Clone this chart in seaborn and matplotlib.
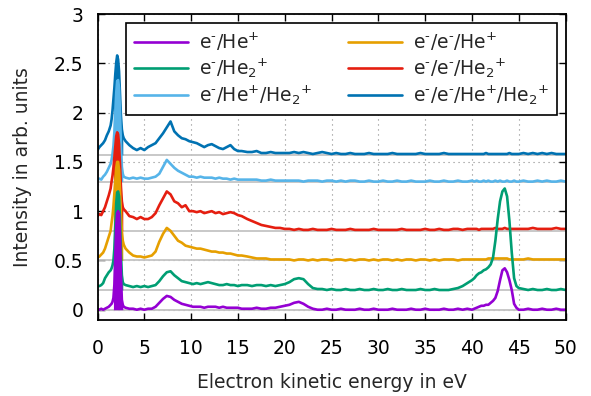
import numpy as np
import pandas as pd
import matplotlib
matplotlib.use("Agg")
import matplotlib.pyplot as plt
import seaborn as sns

sns.set_theme(style="ticks")
plt.rcParams["font.family"] = ["DejaVu Sans"]
plt.rcParams["mathtext.fontset"] = "dejavusans"

# ---- sampling grid (eV) ----
seg_a = np.round(np.arange(0.0, 1.41, 0.2), 2)     # 8
seg_b = np.round(np.arange(1.5, 2.81, 0.1), 2)     # 14
seg_c = np.round(np.arange(3.0, 15.41, 0.4), 2)    # 32
seg_d = np.round(np.arange(16.0, 39.51, 0.5), 2)   # 48
seg_e = np.round(np.arange(40.0, 44.76, 0.25), 2)  # 20
seg_f = np.round(np.arange(45.0, 50.01, 0.5), 2)   # 11
energy = np.concatenate([seg_a, seg_b, seg_c, seg_d, seg_e, seg_f])

labels = [r"e$^{\text{-}}$/He$^{+}$",
          r"e$^{\text{-}}$/He$_{2}$$^{+}$",
          r"e$^{\text{-}}$/He$^{+}$/He$_{2}$$^{+}$",
          r"e$^{\text{-}}$/e$^{\text{-}}$/He$^{+}$",
          r"e$^{\text{-}}$/e$^{\text{-}}$/He$_{2}$$^{+}$",
          r"e$^{\text{-}}$/e$^{\text{-}}$/He$^{+}$/He$_{2}$$^{+}$"]
colors = ["#9400d3", "#009e73", "#56b4e9", "#e69f00", "#e51e10", "#0072b2"]
offsets = [0.0, 0.2, 1.3, 0.5, 0.8, 1.57]

# ---- signal above each offset (arb. units) ----
he1 = ([0.01, 0.0, 0.01, 0.0, 0.01, 0.02, 0.03, 0.05]
       + [0.06, 0.08, 0.12, 0.25, 0.55, 0.85, 0.98, 1.0, 0.97, 0.75, 0.35, 0.1, 0.05, 0.03]
       + [0.02, 0.01, 0.01, 0.0, 0.01, 0.0, 0.01, 0.01,
          0.03, 0.07, 0.11, 0.14, 0.13, 0.1, 0.08, 0.06,
          0.05, 0.04, 0.03, 0.03, 0.03, 0.02, 0.03, 0.03,
          0.03, 0.02, 0.03, 0.02, 0.02, 0.02, 0.02, 0.01]
       + [0.01, 0.01, 0.02, 0.01, 0.01, 0.02, 0.02, 0.03,
          0.04, 0.05, 0.07, 0.08, 0.06, 0.03, 0.01, 0.0,
          0.0, 0.01, 0.0, 0.0, 0.01, 0.0, 0.0, 0.0,
          0.01, 0.0, 0.0, 0.01, 0.0, 0.0, 0.0, 0.01,
          0.0, 0.0, 0.0, 0.01, 0.0, 0.0, 0.01, 0.0,
          0.0, 0.0, 0.01, 0.0, 0.0, 0.01, 0.0, 0.01]
       + [0.0, 0.01, 0.02, 0.03, 0.04, 0.04, 0.05, 0.05, 0.07, 0.09,
          0.12, 0.19, 0.3, 0.4, 0.42, 0.38, 0.3, 0.2, 0.06, 0.02]
       + [0.0, 0.0, 0.01, 0.0, 0.0, 0.01, 0.0, 0.0, 0.01, 0.0, 0.0])

he2 = ([0.04, 0.04, 0.05, 0.07, 0.12, 0.15, 0.18, 0.2]
       + [0.22, 0.25, 0.3, 0.42, 0.65, 0.88, 0.99, 1.0, 0.95, 0.72, 0.38, 0.15, 0.08, 0.06]
       + [0.05, 0.04, 0.03, 0.04, 0.03, 0.04, 0.03, 0.04,
          0.05, 0.09, 0.14, 0.18, 0.19, 0.15, 0.12, 0.09,
          0.08, 0.07, 0.06, 0.07, 0.06, 0.07, 0.08, 0.07,
          0.06, 0.05, 0.05, 0.06, 0.05, 0.05, 0.04, 0.05]
       + [0.05, 0.04, 0.05, 0.05, 0.04, 0.05, 0.04, 0.05,
          0.06, 0.08, 0.11, 0.12, 0.11, 0.06, 0.02, 0.01,
          0.01, 0.0, 0.01, 0.0, 0.0, 0.01, 0.0, 0.0,
          0.01, 0.0, 0.0, 0.01, 0.0, 0.0, 0.01, 0.0,
          0.0, 0.01, 0.0, 0.0, 0.0, 0.01, 0.0, 0.0,
          0.01, 0.0, 0.0, 0.0, 0.01, 0.02, 0.04, 0.07]
       + [0.1, 0.12, 0.15, 0.17, 0.18, 0.2, 0.21, 0.23, 0.26, 0.33,
          0.5, 0.72, 0.9, 1.0, 1.03, 0.95, 0.7, 0.38, 0.12, 0.04]
       + [0.02, 0.01, 0.0, 0.01, 0.0, 0.0, 0.01, 0.0, 0.0, 0.01, 0.0])

he1_he2 = ([0.02, 0.03, 0.02, 0.05, 0.07, 0.1, 0.14, 0.18]
           + [0.22, 0.28, 0.36, 0.5, 0.7, 0.9, 1.02, 1.03, 0.95, 0.7, 0.38, 0.15, 0.08, 0.05]
           + [0.04, 0.03, 0.04, 0.03, 0.04, 0.03, 0.03, 0.04,
              0.05, 0.08, 0.15, 0.22, 0.18, 0.14, 0.11, 0.09,
              0.07, 0.05, 0.05, 0.04, 0.05, 0.04, 0.04, 0.04,
              0.03, 0.04, 0.03, 0.03, 0.02, 0.03, 0.02, 0.02]
           + [0.02, 0.02, 0.02, 0.01, 0.01, 0.02, 0.01, 0.01,
              0.01, 0.01, 0.01, 0.01, 0.0, 0.01, 0.01, 0.01,
              0.0, 0.01, 0.01, 0.0, 0.01, 0.0, 0.01, 0.01,
              0.0, 0.0, 0.01, 0.0, 0.0, 0.01, 0.0, 0.0,
              0.01, 0.0, 0.0, 0.01, 0.0, 0.0, 0.0, 0.01,
              0.0, 0.0, 0.01, 0.0, 0.0, 0.01, 0.0, 0.0]
           + [0.01, 0.0, 0.01, 0.0, 0.0, 0.01, 0.0, 0.01, 0.0, 0.0,
              0.01, 0.0, 0.01, 0.0, 0.0, 0.01, 0.0, 0.0, 0.01, 0.0]
           + [0.0, 0.01, 0.0, 0.0, 0.01, 0.0, 0.01, 0.0, 0.0, 0.01, 0.0])

ee_he1 = ([0.03, 0.04, 0.06, 0.08, 0.12, 0.18, 0.24, 0.3]
          + [0.38, 0.45, 0.55, 0.68, 0.82, 0.94, 1.0, 1.0, 0.92, 0.72, 0.48, 0.3, 0.2, 0.16]
          + [0.12, 0.08, 0.05, 0.04, 0.04, 0.03, 0.04, 0.05,
             0.09, 0.19, 0.27, 0.33, 0.3, 0.25, 0.2, 0.18,
             0.15, 0.14, 0.13, 0.12, 0.12, 0.11, 0.1, 0.09,
             0.09, 0.08, 0.08, 0.07, 0.07, 0.06, 0.05, 0.05]
          + [0.04, 0.03, 0.02, 0.02, 0.02, 0.01, 0.01, 0.01,
             0.01, 0.01, 0.0, 0.01, 0.01, 0.0, 0.01, 0.0,
             0.01, 0.01, 0.0, 0.01, 0.01, 0.0, 0.01, 0.0,
             0.01, 0.01, 0.0, 0.01, 0.0, 0.01, 0.01, 0.0,
             0.01, 0.0, 0.01, 0.01, 0.0, 0.01, 0.01, 0.0,
             0.01, 0.0, 0.01, 0.01, 0.01, 0.0, 0.01, 0.01]
          + [0.01, 0.01, 0.01, 0.01, 0.01, 0.01, 0.01, 0.02, 0.02, 0.02,
             0.02, 0.02, 0.02, 0.02, 0.02, 0.02, 0.01, 0.01, 0.01, 0.01]
          + [0.01, 0.01, 0.02, 0.01, 0.01, 0.01, 0.01, 0.01, 0.01, 0.01, 0.01])

ee_he2 = ([0.15, 0.17, 0.16, 0.2, 0.24, 0.3, 0.36, 0.43]
          + [0.5, 0.56, 0.64, 0.75, 0.87, 0.96, 1.0, 0.98, 0.88, 0.68, 0.45, 0.3, 0.24, 0.22]
          + [0.2, 0.15, 0.14, 0.12, 0.14, 0.12, 0.12, 0.14,
             0.18, 0.26, 0.33, 0.4, 0.37, 0.3, 0.28, 0.24,
             0.26, 0.2, 0.2, 0.19, 0.2, 0.18, 0.19, 0.2,
             0.18, 0.19, 0.17, 0.18, 0.19, 0.18, 0.16, 0.15]
          + [0.12, 0.1, 0.08, 0.06, 0.05, 0.04, 0.03, 0.03,
             0.02, 0.02, 0.01, 0.02, 0.01, 0.01, 0.02, 0.01,
             0.01, 0.01, 0.02, 0.01, 0.01, 0.01, 0.02, 0.01,
             0.01, 0.01, 0.01, 0.02, 0.01, 0.01, 0.01, 0.01,
             0.01, 0.02, 0.01, 0.01, 0.01, 0.01, 0.02, 0.01,
             0.01, 0.02, 0.01, 0.01, 0.02, 0.02, 0.01, 0.02]
          + [0.02, 0.02, 0.02, 0.01, 0.02, 0.02, 0.02, 0.02, 0.02, 0.02,
             0.03, 0.02, 0.02, 0.02, 0.03, 0.02, 0.02, 0.02, 0.02, 0.02]
          + [0.02, 0.02, 0.02, 0.03, 0.02, 0.02, 0.02, 0.02, 0.03, 0.02, 0.02])

ee_he1_he2 = ([0.05, 0.08, 0.1, 0.12, 0.15, 0.2, 0.24, 0.3]
              + [0.36, 0.45, 0.56, 0.68, 0.82, 0.94, 1.01, 0.97, 0.85, 0.62, 0.4, 0.26, 0.2, 0.17]
              + [0.14, 0.1, 0.07, 0.05, 0.07, 0.05, 0.08, 0.1,
                 0.12, 0.17, 0.22, 0.28, 0.34, 0.24, 0.2, 0.17,
                 0.16, 0.14, 0.13, 0.12, 0.1, 0.08, 0.1, 0.11,
                 0.09, 0.07, 0.06, 0.08, 0.1, 0.06, 0.04, 0.04]
              + [0.03, 0.03, 0.04, 0.02, 0.02, 0.03, 0.02, 0.02,
                 0.02, 0.02, 0.03, 0.02, 0.03, 0.02, 0.01, 0.02,
                 0.03, 0.02, 0.01, 0.02, 0.01, 0.01, 0.02, 0.01,
                 0.01, 0.01, 0.02, 0.01, 0.01, 0.01, 0.01, 0.02,
                 0.01, 0.01, 0.01, 0.01, 0.01, 0.02, 0.01, 0.01,
                 0.01, 0.01, 0.02, 0.01, 0.01, 0.01, 0.01, 0.01]
              + [0.01, 0.01, 0.01, 0.01, 0.01, 0.01, 0.02, 0.01, 0.01, 0.01,
                 0.01, 0.01, 0.01, 0.01, 0.01, 0.01, 0.02, 0.01, 0.01, 0.01]
              + [0.01, 0.02, 0.01, 0.02, 0.01, 0.02, 0.01, 0.02, 0.01, 0.01, 0.01])

series = [he1, he2, he1_he2, ee_he1, ee_he2, ee_he1_he2]

xticks = [0, 5, 10, 15, 20, 25, 30, 35, 40, 45, 50]
yticks = [0, 0.5, 1, 1.5, 2, 2.5, 3]
ytick_labels = ["0", "0.5", "1", "1.5", "2", "2.5", "3"]

fig = plt.figure(figsize=(5.91, 3.96), dpi=100)
ax = fig.add_axes([0.165, 0.193, 0.792, 0.7715])
ax.set_xlim(0, 50)
ax.set_ylim(-0.1, 3)
ax.set_xticks(xticks)
ax.set_yticks(yticks)
ax.set_yticklabels(ytick_labels)
ax.grid(True, color="#8a8a8a", linestyle=(0, (1, 3.5)), lw=0.8, zorder=0)
ax.set_axisbelow(True)

# grey baselines
for off in offsets:
    ax.axhline(off, color="#c4c4c4", lw=1.3, zorder=1)

# bottom-most first: dark blue, light blue, red, orange, green, purple
draw_order = [5, 2, 4, 3, 1, 0]
handles = {}
for k, i in enumerate(draw_order):
    vals = np.asarray(series[i]) + offsets[i]
    df = pd.DataFrame({"energy": energy, "intensity": vals})
    mask = (energy >= 1.7) & (energy <= 2.7)
    ax.fill_between(energy, offsets[i], vals, where=mask, color=colors[i],
                    lw=0, zorder=3 + 2 * k)
    sns.lineplot(data=df, x="energy", y="intensity", color=colors[i], lw=1.9,
                 estimator=None, ax=ax, zorder=4 + 2 * k)
    handles[i] = ax.lines[-1]

leg = ax.legend([handles[i] for i in range(6)], labels, ncol=2,
                loc="upper left", bbox_to_anchor=(0.061, 0.97),
                borderaxespad=0, frameon=True, fancybox=False,
                edgecolor="black", framealpha=1, fontsize=13.5,
                handlelength=2.9, handletextpad=0.6, columnspacing=1.9,
                labelspacing=0.2, borderpad=0.4)
leg.get_frame().set_linewidth(1.2)
leg.set_zorder(30)

ax.set_xlabel("Electron kinetic energy in eV", fontsize=13.5, labelpad=11)
ax.set_ylabel("Intensity in arb. units", fontsize=13.5, labelpad=16)
ax.tick_params(direction="in", length=5, width=1, top=True, right=True,
               labelsize=13.5, colors="black")
ax.tick_params(axis="x", pad=14)
ax.tick_params(axis="y", pad=10)
for s in ax.spines.values():
    s.set_linewidth(1.3)
    s.set_color("black")
    s.set_zorder(35)

fig.savefig("out.png", dpi=100)
